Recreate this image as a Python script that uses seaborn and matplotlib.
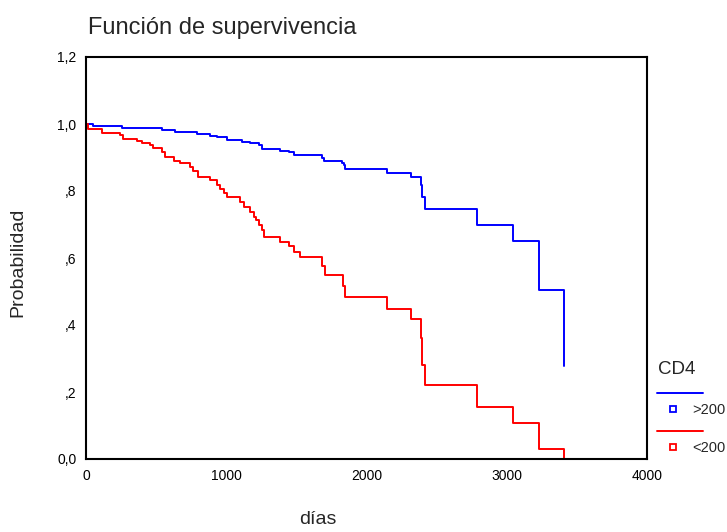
import matplotlib
matplotlib.use("Agg")
import matplotlib.pyplot as plt
import seaborn as sns
import pandas as pd
from matplotlib.lines import Line2D

# ---- data ----
groups = [">200", "<200"]
colors = ["#0000FF", "#FF0000"]

days_hi = [0, 52, 255, 540, 636, 790, 886, 933, 1005, 1112, 1171, 1231, 1255,
           1386, 1445, 1481, 1683, 1695, 1826, 1838, 1850, 2143, 2314, 2386,
           2398, 2414, 2786, 3043, 3231, 3405]
surv_hi = [1.000, 0.995, 0.987, 0.982, 0.975, 0.970, 0.965, 0.960, 0.953,
           0.947, 0.942, 0.937, 0.925, 0.920, 0.915, 0.908, 0.900, 0.890,
           0.885, 0.878, 0.866, 0.853, 0.841, 0.818, 0.781, 0.745, 0.698,
           0.652, 0.503, 0.278]

days_lo = [0, 17, 112, 243, 267, 362, 398, 457, 481, 540, 564, 624, 671, 743,
           762, 802, 886, 933, 957, 981, 1005, 1100, 1124, 1171, 1195, 1214,
           1231, 1255, 1267, 1386, 1445, 1481, 1524, 1683, 1702, 1833, 1845,
           2143, 2314, 2386, 2398, 2414, 2786, 3043, 3231, 3405]
surv_lo = [1.000, 0.984, 0.972, 0.967, 0.955, 0.950, 0.944, 0.937, 0.927,
           0.917, 0.902, 0.891, 0.885, 0.873, 0.861, 0.843, 0.833, 0.818,
           0.805, 0.795, 0.781, 0.768, 0.751, 0.738, 0.723, 0.713, 0.699,
           0.684, 0.664, 0.649, 0.636, 0.619, 0.604, 0.575, 0.549, 0.515,
           0.484, 0.447, 0.417, 0.360, 0.280, 0.221, 0.154, 0.106, 0.030,
           0.000]

x_ticks = [0, 1000, 2000, 3000, 4000]
x_tick_labels = ["0", "1000", "2000", "3000", "4000"]
y_ticks = [0.0, 0.2, 0.4, 0.6, 0.8, 1.0, 1.2]
y_tick_labels = ["0,0", ",2", ",4", ",6", ",8", "1,0", "1,2"]

title = "Función de supervivencia"
x_label = "días"
y_label = "Probabilidad"
legend_title = "CD4"

df = pd.concat([
    pd.DataFrame({"días": days_hi, "prob": surv_hi, "CD4": groups[0]}),
    pd.DataFrame({"días": days_lo, "prob": surv_lo, "CD4": groups[1]}),
], ignore_index=True)

# ---- figure ----
sns.set_style("white")
plt.rcParams["font.family"] = ["Liberation Sans", "DejaVu Sans"]

W, H = 727, 532
fig = plt.figure(figsize=(W / 100, H / 100), dpi=100)
ax = fig.add_axes([86 / W, 1 - 459 / H, (647 - 86) / W, (459 - 57) / H])

sns.lineplot(data=df, x="días", y="prob", hue="CD4", hue_order=groups,
             palette=dict(zip(groups, colors)), drawstyle="steps-post",
             estimator=None, sort=False, linewidth=1.4, legend=False, ax=ax)

ax.set_xlim(0, 4000)
ax.set_ylim(0, 1.2)
ax.set_xticks(x_ticks)
ax.set_xticklabels(x_tick_labels)
ax.set_yticks(y_ticks)
ax.set_yticklabels(y_tick_labels)
ax.tick_params(axis="both", direction="out", length=3, width=1.5,
               labelsize=10, colors="black", pad=4)
ax.set_xlabel("")
ax.set_ylabel("")
for s in ax.spines.values():
    s.set_visible(True)
    s.set_color("black")
    s.set_linewidth(1.5)

fig.text(88 / W, 1 - 28 / H, title, fontsize=17, ha="left", va="center")
fig.text(318 / W, 1 - 519 / H, x_label, fontsize=14, ha="center", va="center")
fig.text(18 / W, 1 - 262 / H, y_label, fontsize=14, ha="center", va="center",
         rotation=90)

# legend (SPSS style)
fig.text(658 / W, 1 - 369 / H, legend_title, fontsize=13.5, ha="left", va="center")
for i, (g, c) in enumerate(zip(groups, colors)):
    ly = 392.5 + i * 38
    fig.add_artist(Line2D([657 / W, 703 / W], [1 - ly / H, 1 - ly / H],
                          color=c, linewidth=1.4, transform=fig.transFigure))
    fig.add_artist(Line2D([673 / W], [1 - (ly + 16.5) / H], marker="s",
                          markersize=5, markerfacecolor="white",
                          markeredgecolor=c, markeredgewidth=1.3,
                          linestyle="none", transform=fig.transFigure))
    fig.text(692 / W, 1 - (ly + 18) / H, g, fontsize=10.5, ha="left", va="center")

fig.savefig("out.png", dpi=100)
